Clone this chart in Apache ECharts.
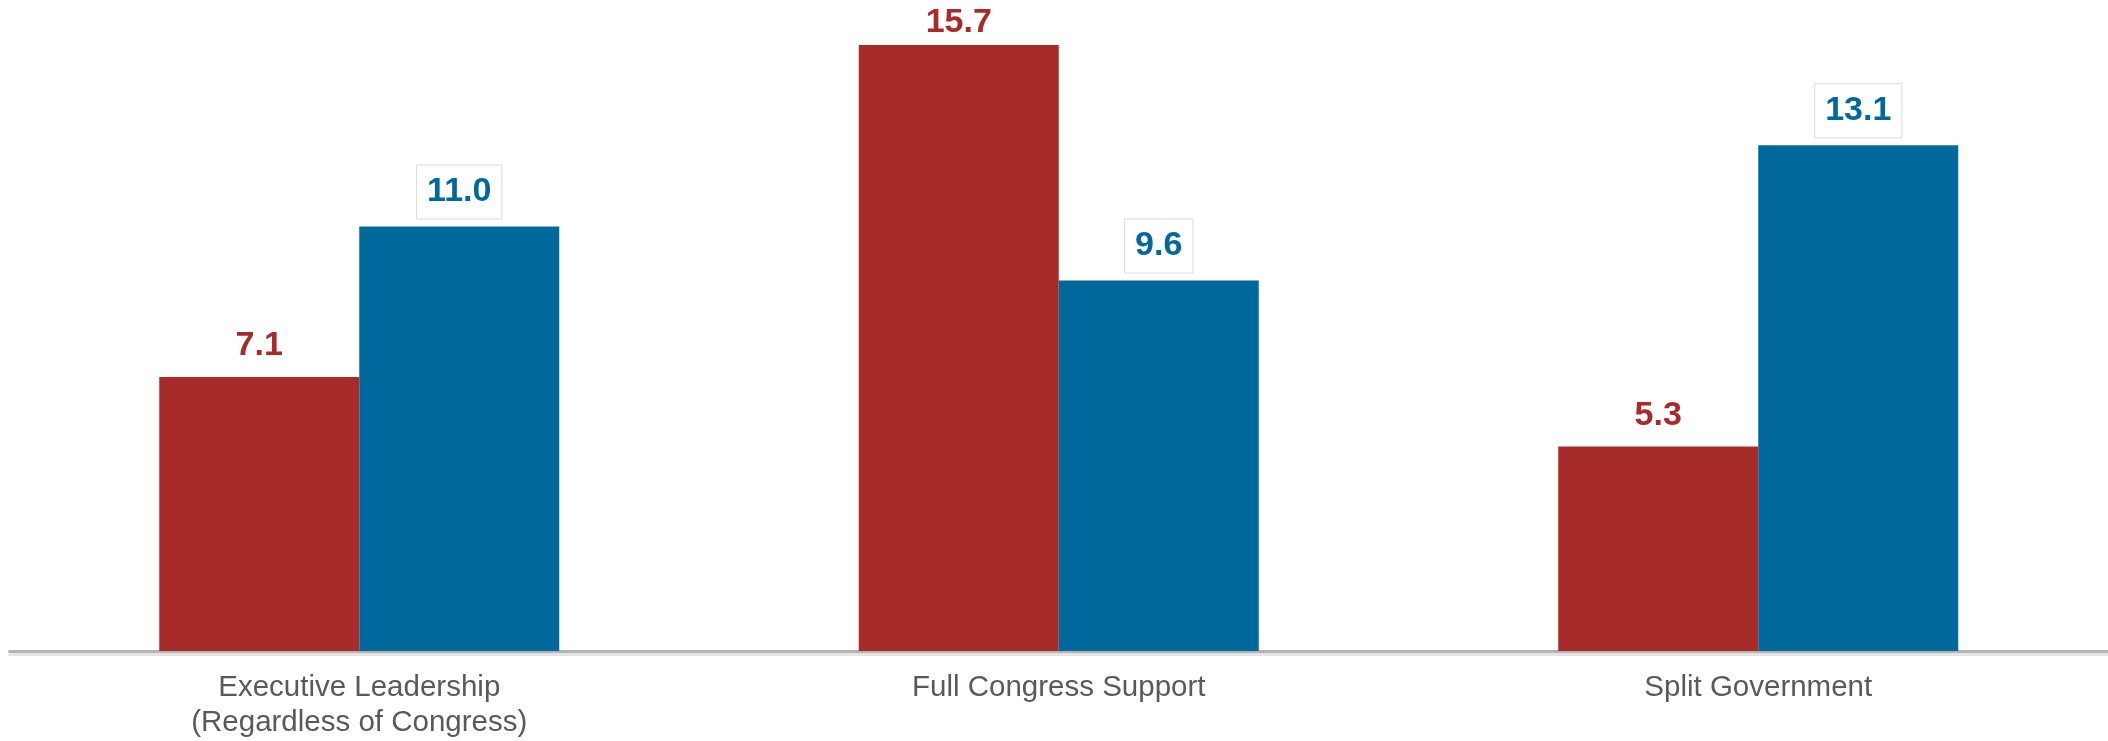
<!DOCTYPE html>
<html>
<head>
<meta charset="utf-8">
<script src="https://cdn.jsdelivr.net/npm/echarts@6/dist/echarts.min.js"></script>
<style>
  html, body { margin: 0; padding: 0; background: #ffffff; }
  #chart { width: 2108px; height: 741px; }
</style>
</head>
<body>
<div id="chart"></div>
<script>
const categories = ['Executive Leadership\n(Regardless of Congress)', 'Full Congress Support', 'Split Government'];
const redValues = [7.1, 15.7, 5.3];
const blueValues = [11.0, 9.6, 13.1];

const RED = '#a72b28';
const BLUE = '#00689b';
const FONT = '"Liberation Sans", Arial, sans-serif';

const redMax = Math.max.apply(null, redValues);
const redData = redValues.map(v => v === redMax ? { value: v, label: { distance: 5 } } : v);

const chart = echarts.init(document.getElementById('chart'), null, { renderer: 'canvas' });
chart.setOption({
  animation: false,
  backgroundColor: '#ffffff',
  grid: { left: 9.5, right: -4.5, top: 33.4, bottom: 90, containLabel: false },
  xAxis: {
    type: 'category',
    data: categories,
    axisTick: { show: false },
    axisLine: {
      show: true,
      lineStyle: { color: '#b4b4b4', width: 3, shadowColor: '#e4e4e4', shadowOffsetY: 3, shadowBlur: 0 }
    },
    axisLabel: {
      color: '#595959',
      fontFamily: FONT,
      fontSize: 29.5,
      lineHeight: 35,
      margin: 19,
      interval: 0
    },
    splitLine: { show: false }
  },
  yAxis: {
    type: 'value',
    min: 0,
    max: 16,
    show: false,
    splitLine: { show: false }
  },
  series: [
    {
      type: 'bar',
      data: redData,
      barWidth: 200,
      barGap: '0%',
      itemStyle: { color: RED },
      label: {
        show: true,
        position: 'top',
        distance: 14,
        color: RED,
        fontFamily: FONT,
        fontWeight: 'bold',
        fontSize: 34,
        lineHeight: 34,
        formatter: p => Number(p.value).toFixed(1)
      }
    },
    {
      type: 'bar',
      data: blueValues,
      barWidth: 200,
      barGap: '0%',
      itemStyle: { color: BLUE },
      label: {
        show: true,
        position: 'top',
        distance: 8,
        color: BLUE,
        fontFamily: FONT,
        fontWeight: 'bold',
        fontSize: 34,
        lineHeight: 34,
        backgroundColor: '#ffffff',
        borderColor: '#dcdcdc',
        borderWidth: 1,
        padding: [9.5, 10],
        formatter: p => Number(p.value).toFixed(1)
      }
    }
  ]
});
</script>
</body>
</html>
